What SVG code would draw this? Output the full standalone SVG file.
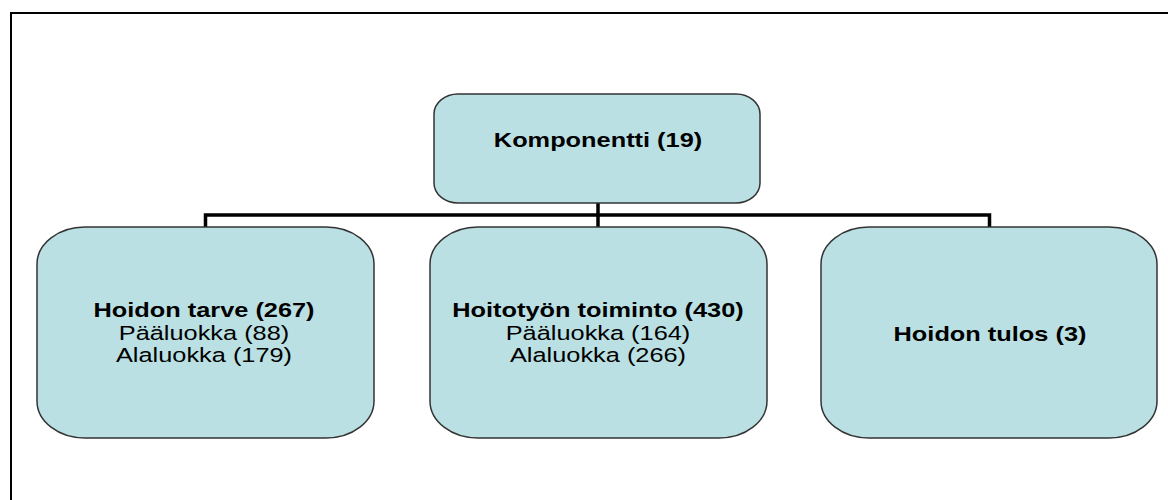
<svg xmlns="http://www.w3.org/2000/svg" width="1168" height="500" viewBox="0 0 1168 500">
  <style>
    .frame { fill: none; stroke: #000; stroke-width: 2; }
    .box { fill: #BBE0E3; stroke: #333; stroke-width: 1.5; }
    .conn { fill: none; stroke: #000; stroke-width: 3.5; stroke-linejoin: miter; stroke-linecap: butt; }
    text { font-family: "Liberation Sans", Arial, sans-serif; font-size: 19.5px; fill: #000; text-anchor: middle; }
    .b { font-weight: bold; }
  </style>

  <rect width="1168" height="500" fill="#fff"/>
  <!-- outer frame: only the left and top edges fall inside the canvas -->
  <path class="frame" d="M11,500 V13 H1168"/>

  <g id="connectors">
    <path class="conn" d="M598,203 V215"/>
    <path class="conn" d="M205.5,227 V215 H989.5 V227"/>
    <path class="conn" d="M598,215 V227"/>
  </g>

  <g id="komponentti">
    <rect class="box" x="434" y="94" width="326" height="109" rx="24" ry="20"/>
    <text class="b" transform="translate(598,147) scale(1.3,1)">Komponentti (19)</text>
  </g>

  <g id="hoidon-tarve">
    <rect class="box" x="37" y="227" width="337" height="211" rx="48" ry="37"/>
    <text class="b" transform="translate(204,317) scale(1.3,1)">Hoidon tarve (267)</text>
    <text transform="translate(204,340) scale(1.3,1)">Pääluokka (88)</text>
    <text transform="translate(204,362) scale(1.3,1)">Alaluokka (179)</text>
  </g>

  <g id="hoitotyon-toiminto">
    <rect class="box" x="430" y="227" width="337" height="211" rx="48" ry="37"/>
    <text class="b" transform="translate(598,317) scale(1.3,1)">Hoitotyön toiminto (430)</text>
    <text transform="translate(598,340) scale(1.3,1)">Pääluokka (164)</text>
    <text transform="translate(598,362) scale(1.3,1)">Alaluokka (266)</text>
  </g>

  <g id="hoidon-tulos">
    <rect class="box" x="821" y="227" width="336" height="211" rx="48" ry="37"/>
    <text class="b" transform="translate(990,341) scale(1.3,1)">Hoidon tulos (3)</text>
  </g>
</svg>
